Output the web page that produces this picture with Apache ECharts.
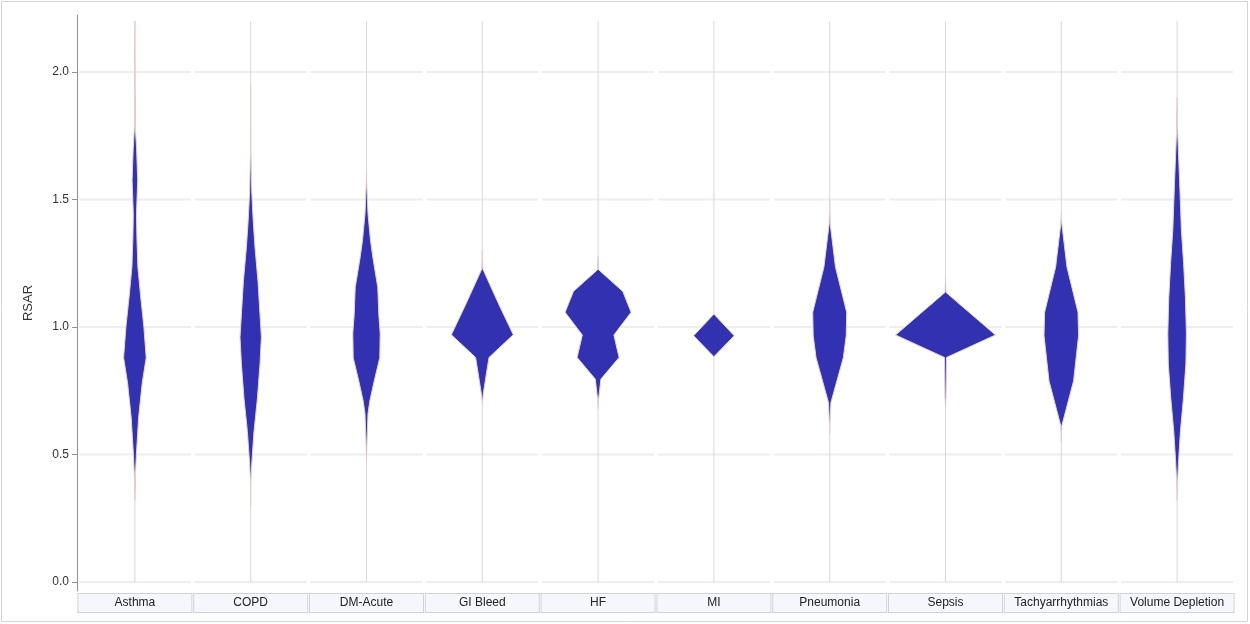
<!DOCTYPE html>
<html><head><meta charset="utf-8">
<script src="https://cdn.jsdelivr.net/npm/echarts@6/dist/echarts.min.js"></script>
<style>html,body{margin:0;padding:0;background:#fff}#c{width:1250px;height:624px}</style>
</head><body><div id="c"></div>
<script>
// Categories and y-axis ticks
const categories = ['Asthma','COPD','DM-Acute','GI Bleed','HF','MI','Pneumonia','Sepsis','Tachyarrhythmias','Volume Depletion'];
const yTicks = [0, 0.5, 1.0, 1.5, 2.0];

// Violin density profiles: [RSAR value, relative density]
const asthma = [[2.20,0],[1.95,0.02],[1.78,0.05],[1.70,0.17],[1.575,0.28],[1.445,0.16],[1.35,0.2],[1.235,0.3],[1.13,0.55],[1.0,0.9],[0.88,1.13],[0.78,0.73],[0.645,0.37],[0.50,0.15],[0.42,0.05],[0.32,0]];
const copd = [[1.95,0],[1.70,0.02],[1.536,0.1],[1.418,0.25],[1.313,0.43],[1.18,0.73],[1.05,0.93],[0.96,1.07],[0.855,0.93],[0.72,0.67],[0.59,0.33],[0.46,0.1],[0.40,0.03],[0.30,0]];
const dmAcute = [[1.62,0],[1.56,0.03],[1.445,0.15],[1.34,0.4],[1.27,0.65],[1.155,1.13],[1.05,1.23],[0.975,1.37],[0.88,1.33],[0.79,0.78],[0.71,0.33],[0.66,0.15],[0.55,0.05],[0.45,0]];
const giBleed = [[1.30,0],[1.228,0.05],[1.143,1.03],[1.077,1.8],[0.970,3.1],[0.881,0.67],[0.79,0.3],[0.74,0.1],[0.70,0]];
const hf = [[1.28,0],[1.225,0.05],[1.140,2.47],[1.058,3.3],[0.969,1.58],[0.881,2.1],[0.796,0.28],[0.711,0.03],[0.68,0]];
const mi = [[1.051,0],[0.966,2.03],[0.884,0]];
const pneumonia = [[1.50,0],[1.405,0.05],[1.235,0.58],[1.058,1.7],[0.966,1.65],[0.881,1.37],[0.704,0.12],[0.606,0.01],[0.58,0]];
const sepsis = [[1.20,0],[1.136,0.05],[0.969,5.0],[0.881,0.1],[0.724,0.05],[0.68,0]];
const tachy = [[1.45,0],[1.405,0.05],[1.235,0.57],[1.058,1.67],[0.966,1.73],[0.789,1.23],[0.613,0.05],[0.55,0]];
const volumeDepletion = [[1.90,0],[1.77,0.05],[1.575,0.25],[1.38,0.43],[1.25,0.65],[1.117,0.83],[0.974,0.93],[0.855,0.88],[0.72,0.63],[0.59,0.33],[0.463,0.13],[0.37,0.02],[0.32,0]];
const profiles = [asthma, copd, dmAcute, giBleed, hf, mi, pneumonia, sepsis, tachy, volumeDepletion];

const Y_MIN = -0.035, Y_MAX = 2.224, LINE_TOP = 2.2;

const chart = echarts.init(document.getElementById('c'));

function renderItem(params, api) {
  const idx = api.value(0);
  const prof = profiles[idx];
  const cx = api.coord([idx, 0])[0];
  const band = api.size([1, 0])[0];
  const k = band * 0.0863;
  const children = [];
  yTicks.forEach(t => {
    const y = api.coord([idx, t])[1];
    children.push({type: 'line', shape: {x1: cx - band / 2 + 2, y1: y, x2: cx + band / 2 - 2, y2: y},
      style: {stroke: '#eeeeee', lineWidth: 2}});
  });
  const yTop = api.coord([idx, LINE_TOP])[1], yBot = api.coord([idx, 0])[1];
  children.push({type: 'line', shape: {x1: cx, y1: yTop, x2: cx, y2: yBot}, style: {stroke: '#e3d6d3', lineWidth: 1}});
  const right = prof.map(p => [cx + p[1] * k, api.coord([idx, p[0]])[1]]);
  const left = prof.slice().reverse().map(p => [cx - p[1] * k, api.coord([idx, p[0]])[1]]);
  children.push({type: 'polygon', shape: {points: right.concat(left)},
    style: {fill: '#3131b2', stroke: '#e6d4ce', lineWidth: 1}});
  return {type: 'group', children};
}

chart.setOption({
  animation: false,
  backgroundColor: '#ffffff',
  graphic: [{type: 'rect', shape: {x: 1.5, y: 1.5, width: 1246, height: 620},
    style: {fill: 'none', stroke: '#d4d4d4', lineWidth: 1}, silent: true, z: -1}],
  grid: {left: 77, right: 15, top: 15, bottom: 33},
  xAxis: {
    type: 'category', data: categories,
    axisLine: {show: false}, axisTick: {show: false}, splitLine: {show: false},
    axisLabel: {interval: 0, margin: 3, width: 113, height: 18, lineHeight: 18, align: 'center',
      backgroundColor: '#f5f7fc', borderColor: '#cfd2d6', borderWidth: 1,
      color: '#222', fontSize: 12, fontFamily: 'Liberation Sans, Arial, sans-serif'}
  },
  yAxis: {
    type: 'value', min: Y_MIN, max: Y_MAX,
    name: 'RSAR', nameLocation: 'middle', nameGap: 42,
    nameTextStyle: {fontSize: 13, color: '#333', fontFamily: 'Liberation Sans, Arial, sans-serif'},
    axisLine: {show: true, lineStyle: {color: '#8c9494', width: 1}},
    axisTick: {show: true, length: 5, customValues: yTicks, lineStyle: {color: '#8c9494'}},
    axisLabel: {customValues: yTicks, formatter: v => v.toFixed(1), fontSize: 12, color: '#333', margin: 8,
      fontFamily: 'Liberation Sans, Arial, sans-serif'},
    splitLine: {show: false}
  },
  series: [{
    type: 'custom',
    renderItem: renderItem,
    encode: {x: 0},
    data: categories.map((c, i) => [i]),
    clip: false
  }]
});
</script>
</body></html>
